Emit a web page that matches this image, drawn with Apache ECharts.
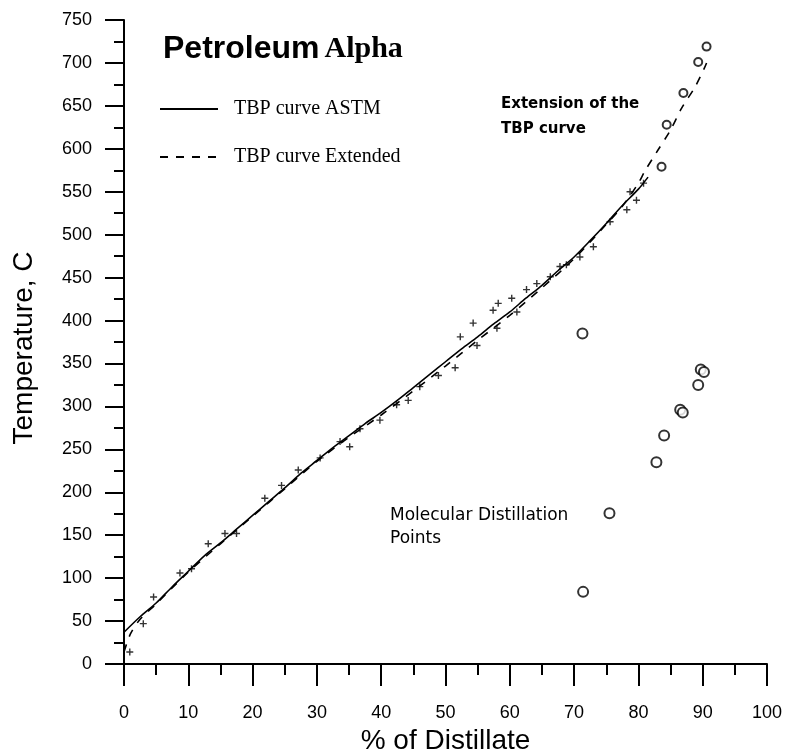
<!DOCTYPE html>
<html>
<head>
<meta charset="utf-8">
<script src="https://cdn.jsdelivr.net/npm/echarts@6/dist/echarts.min.js"></script>
<style>
html,body{margin:0;padding:0;background:#fff;}
#chart{width:787px;height:752px;}
</style>
</head>
<body>
<div id="chart"></div>
<script>
// ---- data ----
const astmX = [0, 2.5, 5, 7.5, 10, 12.5, 15, 17.5, 20, 22.5, 25, 27.5, 30, 32.5, 35, 37.5, 40, 42.5, 45, 47.5, 50, 52.5, 55, 57.5, 60, 62.5, 65, 67.5, 70, 72.5, 75, 77.5, 80, 81.5];
const astmY = [37, 55, 71, 90, 108, 126, 141, 157, 173, 189, 205, 222, 237, 252, 266, 280, 293, 307, 322, 337, 352, 367, 381, 396, 410, 426, 441, 458, 474, 493, 513, 534, 553, 567];

const extX = [0, 1, 2.5, 5, 10, 15, 20, 25, 30, 35, 40, 45, 50, 55, 60, 65, 70, 75, 77.5, 80, 81, 83, 85, 86.7, 88.8, 90.2, 90.6];
const extY = [14, 35, 52, 70, 107, 140, 172, 204, 236, 264, 290, 318, 347, 377, 406, 438, 472, 512, 533, 560, 574, 598, 622, 647, 672, 693, 700];

const dataPtsX = [0.9, 3.0, 4.6, 8.7, 10.5, 13.1, 15.7, 17.5, 21.9, 24.5, 27.1, 30.5, 33.6, 35.1, 36.7, 39.8, 42.4, 44.2, 46.0, 48.9, 51.5, 52.3, 54.3, 54.9, 57.4, 58.0, 58.2, 60.3, 61.1, 62.6, 64.2, 66.3, 67.8, 68.8, 70.9, 73.0, 75.6, 78.2, 78.7, 79.7, 80.8];
const dataPtsY = [14, 47, 78, 106, 111, 140, 152, 152, 193, 208, 226, 240, 259, 253, 274, 284, 302, 307, 323, 336, 345, 381, 397, 371, 412, 391, 420, 426, 410, 436, 443, 451, 463, 465, 474, 486, 515, 529, 550, 540, 560];

const extPtsX = [83.6, 84.4, 87.0, 89.3, 90.6];
const extPtsY = [579, 628, 665, 701, 719];

const molX = [71.3, 75.5, 71.4, 82.8, 84.0, 86.5, 86.9, 89.3, 89.7, 90.2];
const molY = [385, 175.5, 84, 235, 266, 296, 293, 325, 343, 340];

const xTicks = [0, 10, 20, 30, 40, 50, 60, 70, 80, 90, 100];
const yTicks = [0, 50, 100, 150, 200, 250, 300, 350, 400, 450, 500, 550, 600, 650, 700, 750];

const zip = (xs, ys) => xs.map((x, i) => [x, ys[i]]);

const chart = echarts.init(document.getElementById('chart'), null, {renderer: 'canvas'});
const plus = 'path://M4,0H6V4H10V6H6V10H4V6H0V4H4Z';

chart.setOption({
  backgroundColor: '#ffffff',
  animation: false,
  title: {
    text: '{a|Petroleum} {b|Alpha}',
    left: 158, top: 28,
    textStyle: {
      rich: {
        a: {fontFamily: 'Liberation Sans, Arial, sans-serif', fontWeight: 'bold', fontSize: 32, color: '#000'},
        b: {fontFamily: 'Liberation Serif, Times New Roman, serif', fontWeight: 'bold', fontSize: 30, color: '#000'}
      }
    }
  },
  legend: {
    data: ['TBP curve ASTM', 'TBP curve Extended'],
    orient: 'vertical',
    left: 154, top: 94,
    itemWidth: 58, itemHeight: 20, itemGap: 28,
    itemStyle: {opacity: 0},
    textStyle: {fontFamily: 'Liberation Serif, Times New Roman, serif', fontSize: 20, color: '#000', padding: [0, 0, 0, 11]}
  },
  grid: {left: 124, right: 20, top: 20, bottom: 88, containLabel: false, outerBoundsMode: 'none'},
  xAxis: {
    type: 'value', min: 0, max: 100, interval: 10,
    name: '% of Distillate', nameLocation: 'middle', nameGap: 60,
    nameTextStyle: {fontFamily: 'Liberation Sans, Arial, sans-serif', fontSize: 28, color: '#000'},
    axisLine: {show: true, lineStyle: {color: '#000', width: 2}},
    axisTick: {show: true, length: 22, lineStyle: {color: '#000', width: 2}},
    minorTick: {show: true, splitNumber: 2, length: 11, lineStyle: {color: '#000', width: 2}},
    axisLabel: {margin: 40, fontFamily: 'Liberation Sans, Arial, sans-serif', fontSize: 18, color: '#000',
      formatter: v => (xTicks.indexOf(v) >= 0 ? String(v) : '')},
    splitLine: {show: false}
  },
  yAxis: {
    type: 'value', min: 0, max: 750, interval: 50,
    name: 'Temperature, C', nameLocation: 'middle', nameGap: 86,
    nameTextStyle: {fontFamily: 'Liberation Sans, Arial, sans-serif', fontSize: 28, color: '#000', padding: [0, 12, 0, 0]},
    axisLine: {show: true, lineStyle: {color: '#000', width: 2}},
    axisTick: {show: true, length: 19, lineStyle: {color: '#000', width: 2}},
    minorTick: {show: true, splitNumber: 2, length: 10, lineStyle: {color: '#000', width: 2}},
    axisLabel: {margin: 32, fontFamily: 'Liberation Sans, Arial, sans-serif', fontSize: 18, color: '#000',
      formatter: v => (yTicks.indexOf(v) >= 0 ? String(v) : '')},
    splitLine: {show: false}
  },
  graphic: [
    {type: 'text', left: 501, top: 92, style: {text: 'Extension of the\nTBP curve', fill: '#000',
      font: 'bold 15px "DejaVu Sans", sans-serif', lineHeight: 25}},
    {type: 'text', left: 390, top: 504, style: {text: 'Molecular Distillation\nPoints', fill: '#000',
      font: '17px "DejaVu Sans", sans-serif', lineHeight: 23}}
  ],
  series: [
    {name: 'TBP curve ASTM', type: 'line', data: zip(astmX, astmY), showSymbol: false, symbol: 'none',
      smooth: 0.3, lineStyle: {color: '#000', width: 1.6, type: 'solid'}, itemStyle: {color: '#000'}, z: 3},
    {name: 'TBP curve Extended', type: 'line', data: zip(extX, extY), showSymbol: false, symbol: 'none',
      smooth: 0.3, lineStyle: {color: '#000', width: 1.6, type: [8, 8]}, itemStyle: {color: '#000'}, z: 3},
    {name: 'Data', type: 'scatter', data: zip(dataPtsX, dataPtsY), symbol: plus, symbolSize: 7,
      itemStyle: {color: '#000'}, z: 4},
    {name: 'Extension points', type: 'scatter', data: zip(extPtsX, extPtsY), symbol: 'circle', symbolSize: 8,
      itemStyle: {color: '#fff', borderColor: '#000', borderWidth: 2}, z: 5},
    {name: 'Molecular Distillation Points', type: 'scatter', data: zip(molX, molY), symbol: 'circle', symbolSize: 10,
      itemStyle: {color: '#fff', borderColor: '#000', borderWidth: 2}, z: 5}
  ]
});
</script>
</body>
</html>
